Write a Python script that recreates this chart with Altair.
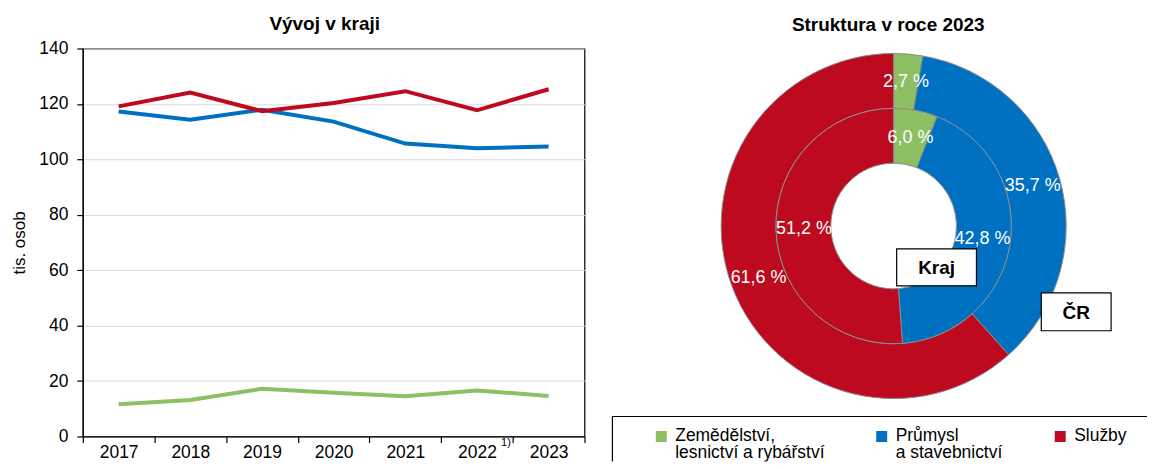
import altair as alt
import pandas as pd

# ---- data ----
years = ["2017", "2018", "2019", "2020", "2021", "2022", "2023"]
sectors = ["Zemědělství,|lesnictví a rybářství", "Průmysl|a stavebnictví", "Služby"]
colors = ["#8CC063", "#0070C0", "#BD0A1E"]
zemedelstvi = [11.6, 13.2, 17.2, 15.8, 14.5, 16.6, 14.6]
prumysl = [117.3, 114.3, 117.9, 113.6, 105.7, 104.0, 104.6]
sluzby = [119.1, 124.1, 117.4, 120.3, 124.6, 117.7, 125.3]
kraj_pct = [6.0, 42.8, 51.2]
cr_pct = [2.7, 35.7, 61.6]
y_ticks = [0, 20, 40, 60, 80, 100, 120, 140]

FONT = "Liberation Sans"

rows = []
for s, vals in zip(sectors, [zemedelstvi, prumysl, sluzby]):
    for yr, v in zip(years, vals):
        rows.append({"rok": yr, "odvětví": s, "hodnota": v})
df_line = pd.DataFrame(rows)


def pct_label(v):
    return f"{v:.1f}".replace(".", ",") + " %"


df_kraj = pd.DataFrame({"odvětví": sectors, "podíl": kraj_pct, "poradi": [1, 2, 3],
                        "popis": [pct_label(v) for v in kraj_pct]})
df_cr = pd.DataFrame({"odvětví": sectors, "podíl": cr_pct, "poradi": [1, 2, 3],
                      "popis": [pct_label(v) for v in cr_pct]})

color_scale = alt.Scale(domain=sectors, range=colors)

# ---- left: line chart ----
W, H = 503, 389
line = alt.Chart(df_line).mark_line(strokeWidth=4).encode(
    x=alt.X("rok:O", scale=alt.Scale(type="band", paddingInner=0, paddingOuter=0),
            axis=alt.Axis(title=None, labelAngle=0, tickBand="extent", tickSize=6,
                          labelPadding=1, labelFontSize=17.5, grid=False)),
    y=alt.Y("hodnota:Q", scale=alt.Scale(domain=[0, 140], nice=False),
            axis=alt.Axis(values=y_ticks, title="tis. osob", titleFontSize=17,
                          titleFontWeight="normal", titlePadding=10, tickSize=6,
                          labelPadding=9, labelFontSize=17.5, grid=True)),
    color=alt.Color("odvětví:N", scale=color_scale, legend=None),
    order=alt.Order("rok:O"),
)
note = alt.Chart(pd.DataFrame({"rok": ["2022"], "t": ["1)"]})).mark_text(
    fontSize=11, dx=29, align="center", baseline="middle", font=FONT, color="black"
).encode(x=alt.X("rok:O"), y=alt.value(H + 7), text="t:N")

left = alt.layer(line, note).properties(
    width=W, height=H,
    title=alt.TitleParams("Vývoj v kraji", fontSize=19, fontWeight="bold", font=FONT,
                          frame="group", anchor="middle", dx=-9, offset=6, color="black"),
    view=alt.ViewBackground(stroke="black", strokeWidth=1.2),
)

# ---- right: double donut ----
RW, RH = 543, 414
cx, cy = 289, 178


def ring(df, r_in, r_out, r_txt):
    base = alt.Chart(df).encode(
        theta=alt.Theta("podíl:Q", stack=True),
        order=alt.Order("poradi:Q"),
    )
    arc = base.mark_arc(radius=r_out, radius2=r_in, stroke="#8C8C8C", strokeWidth=1).encode(
        color=alt.Color("odvětví:N", scale=color_scale, legend=None),
        x=alt.value(cx), y=alt.value(cy),
    )
    txt = base.mark_text(radius=r_txt, fill="white", fontSize=18, font=FONT).encode(
        text="popis:N", detail="odvětví:N", x=alt.value(cx), y=alt.value(cy),
    )
    return arc, txt


outer_arc, outer_txt = ring(df_cr, 118, 173, 145)
inner_arc, inner_txt = ring(df_kraj, 63, 118, 90)


def box(label, x0, y0, x1, y1):
    d = pd.DataFrame({"t": [label]})
    r = alt.Chart(d).mark_rect(fill="white", stroke="black", strokeWidth=1.2).encode(
        x=alt.value(x0), x2=alt.value(x1), y=alt.value(y0), y2=alt.value(y1))
    t = alt.Chart(d).mark_text(fontSize=19, fontWeight="bold", font=FONT, color="black",
                               align="center", baseline="middle").encode(
        text="t:N", x=alt.value((x0 + x1) / 2), y=alt.value((y0 + y1) / 2 + 1))
    return r, t


kr_r, kr_t = box("Kraj", 292, 201, 372, 238)
cr_r, cr_t = box("ČR", 437, 245, 507, 283)

# legend (its box runs past the chart edge, as in the original)
leg_layers = [
    alt.Chart(pd.DataFrame({"t": ["legend"]})).mark_rect(
        fill="white", stroke="black", strokeWidth=1.2, clip=True
    ).encode(x=alt.value(7), x2=alt.value(RW + 40), y=alt.value(369), y2=alt.value(RH + 40))
]
for s, lx in zip(sectors, [56, 277, 456]):
    d = pd.DataFrame({"odvětví": [s]})
    leg_layers.append(
        alt.Chart(d).mark_square(size=121, opacity=1, clip=True).encode(
            x=alt.value(lx), y=alt.value(389),
            color=alt.Color("odvětví:N", scale=color_scale, legend=None),
        )
    )
    leg_layers.append(
        alt.Chart(d).mark_text(
            align="left", baseline="top", fontSize=17.5, font=FONT, color="black",
            lineBreak="|", lineHeight=17, clip=True
        ).encode(x=alt.value(lx + 14), y=alt.value(380), text="odvětví:N")
    )

right = alt.layer(outer_arc, inner_arc, outer_txt, inner_txt, kr_r, kr_t, cr_r, cr_t,
                  *leg_layers).properties(
    width=RW, height=RH,
    title=alt.TitleParams("Struktura v roce 2023", fontSize=19, fontWeight="bold", font=FONT,
                          frame="group", anchor="start", dx=187, offset=14, color="black"),
    view=alt.ViewBackground(stroke="transparent"),
)

chart = alt.hconcat(left, right, spacing=18).resolve_scale(
    color="independent", theta="independent"
).properties(
    padding={"left": 2, "top": 5, "right": 0, "bottom": 0}
).configure(
    font=FONT
).configure_axis(
    domainColor="black", tickColor="black", labelColor="black", titleColor="black",
    gridColor="#D9D9D9", labelFont=FONT, titleFont=FONT, domainWidth=1.2, tickWidth=1.2,
)

chart.save("out.html", embed_options={"renderer": "svg", "actions": False})
